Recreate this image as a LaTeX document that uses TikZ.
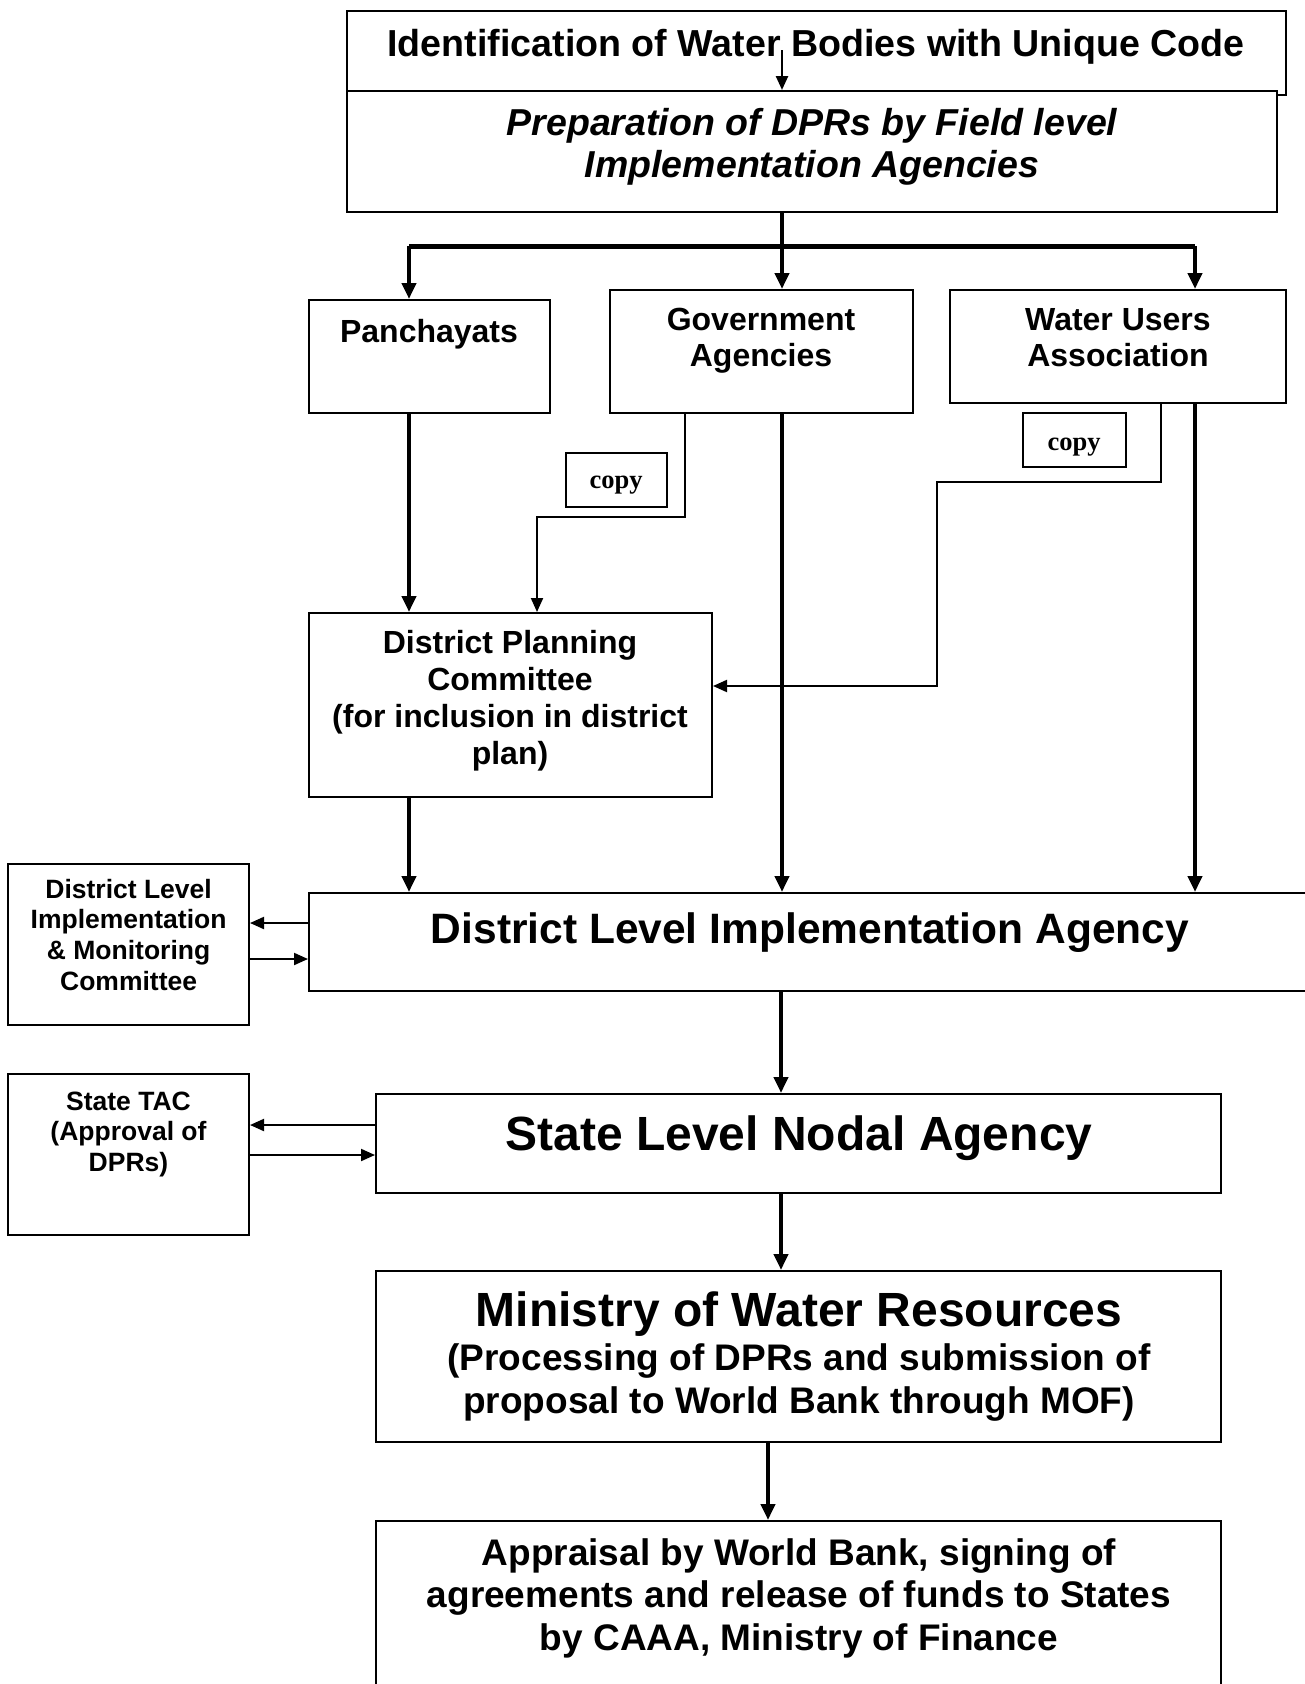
\documentclass[tikz,border=0pt]{standalone}
\usepackage{fontspec}
\setmainfont{Liberation Sans}
\newfontfamily\copyfont{Liberation Serif}
\usetikzlibrary{arrows.meta,fit}
\newcommand{\mylines}[3]{\fontsize{#1}{#2}\selectfont\begin{tabular}[t]{@{}c@{}}#3\end{tabular}}
\tikzset{
  box/.style={draw, line width=2pt, fill=white, inner sep=0pt},
  txt/.style={inner sep=0pt, anchor=base, font=\bfseries},
  heavyarrow/.style={line width=4pt, line join=miter, -{Triangle[length=16pt,width=14pt]}},
  lightarrow/.style={line width=2pt, line join=miter, -{Triangle[length=14pt,width=12pt]}},
}
\begin{document}
\begin{tikzpicture}[x=1pt,y=-1pt]
\path[use as bounding box, fill=white] (0,0) rectangle (1305,1684);

% boxes
\node[box, fit={(347,11) (1286,95)}] (ident) {};
\node[box, fit={(347,91) (1277,212)}] (prep) {};
\node[box, fit={(309,300) (550,413)}] (pan) {};
\node[box, fit={(610,290) (913,413)}] (gov) {};
\node[box, fit={(950,290) (1286,403)}] (wua) {};
\node[box, fit={(566,453) (667,507)}] (copyA) {};
\node[box, fit={(1023,413) (1126,467)}] (copyB) {};
\node[box, fit={(309,613) (712,797)}] (dpc) {};
\node[box, fit={(309,893) (1311,991)}] (dlia) {};
\node[box, fit={(8,864) (249,1025)}] (dlimc) {};
\node[box, fit={(376,1094) (1221,1193)}] (slna) {};
\node[box, fit={(8,1074) (249,1235)}] (tac) {};
\node[box, fit={(376,1271) (1221,1442)}] (mowr) {};
\node[box, fit={(376,1521) (1221,1700)}] (appr) {};

% texts
\node[txt] (identT) at (816,56) {\fontsize{37.6}{42}\selectfont Identification of Water Bodies with Unique Code};
\node[txt] (prepT) at (812,135) {\itshape\mylines{37.5}{42}{Preparation of DPRs by Field level\\Implementation Agencies}};
\node[txt] (panT) at (429,342) {\fontsize{32}{36.5}\selectfont Panchayats};
\node[txt] (govT) at (761,330) {\mylines{32}{36.5}{Government\\Agencies}};
\node[txt] (wuaT) at (1118,330) {\mylines{32}{36.5}{Water Users\\Association}};
\node[txt] (copyAT) at (616,488) {\copyfont\fontsize{26.5}{30}\selectfont copy};
\node[txt] (copyBT) at (1074,450) {\copyfont\fontsize{26.5}{30}\selectfont copy};
\node[txt] (dpcT) at (510,653) {\mylines{32}{37}{District Planning\\Committee\\(for inclusion in district\\plan)}};
\node[txt] (dliaT) at (810,943) {\fontsize{42.5}{48}\selectfont District Level Implementation Agency};
\node[txt] (dlimcT) at (128.6,898) {\mylines{26.5}{30.7}{District Level\\Implementation\\\& Monitoring\\Committee}};
\node[txt] (tacT) at (128.5,1110) {\mylines{26.5}{30.5}{State TAC\\(Approval of\\DPRs)}};
\node[txt] (slnaT) at (799,1150) {\fontsize{48}{54}\selectfont State Level Nodal Agency};
\node[txt] (mowrT) at (799,1326) {\fontsize{48}{54}\selectfont Ministry of Water Resources};
\node[txt] (mowrS) at (799,1370) {\mylines{37}{43}{(Processing of DPRs and submission of\\proposal to World Bank through MOF)}};
\node[txt] (apprT) at (799,1565) {\mylines{37}{42.5}{Appraisal by World Bank, signing of\\agreements and release of funds to States\\by CAAA, Ministry of Finance}};

% connector coordinates
\coordinate (idA) at (782,50);
\coordinate (busL) at (409,246);
\coordinate (busM) at (782,246);
\coordinate (busR) at (1195,246);
\coordinate (gA) at (685,517);
\coordinate (gB) at (537,517);
\coordinate (gX) at (782,0);
\coordinate (wA) at (1161,482);
\coordinate (wB) at (937,482);
\coordinate (wC) at (937,686);
\coordinate (dY1) at (0,923);
\coordinate (dY2) at (0,959);
\coordinate (sY1) at (0,1125);
\coordinate (sY2) at (0,1155);
\coordinate (cX) at (781,0);
\coordinate (mX) at (768,0);

% connectors
\draw[line width=2.5pt, -{Triangle[length=14pt,width=12pt]}] (idA) -- (prep.north -| idA);
\draw[line width=4pt] (prep.south -| busM) -- (busM);
\draw[line width=5pt] (busL) -- (busR);
\draw[heavyarrow] (busL) -- (busL |- pan.north);
\draw[heavyarrow] (busM) -- (busM |- gov.north);
\draw[heavyarrow] (busR) -- (busR |- wua.north);
\draw[heavyarrow] (pan.south -| busL) -- (dpc.north -| busL);
\draw[lightarrow] (gov.south -| gA) -- (gA) -- (gB) -- (dpc.north -| gB);
\draw[lightarrow] (wua.south -| wA) -- (wA) -- (wB) -- (wC) -- (dpc.east |- wC);
\draw[heavyarrow] (gov.south -| gX) -- (dlia.north -| gX);
\draw[heavyarrow] (wua.south -| busR) -- (dlia.north -| busR);
\draw[heavyarrow] (dpc.south -| busL) -- (dlia.north -| busL);
\draw[lightarrow] (dlia.west |- dY1) -- (dlimc.east |- dY1);
\draw[lightarrow] (dlimc.east |- dY2) -- (dlia.west |- dY2);
\draw[heavyarrow] (dlia.south -| cX) -- (slna.north -| cX);
\draw[lightarrow] (slna.west |- sY1) -- (tac.east |- sY1);
\draw[lightarrow] (tac.east |- sY2) -- (slna.west |- sY2);
\draw[heavyarrow] (slna.south -| cX) -- (mowr.north -| cX);
\draw[heavyarrow] (mowr.south -| mX) -- (appr.north -| mX);
\end{tikzpicture}
\end{document}
